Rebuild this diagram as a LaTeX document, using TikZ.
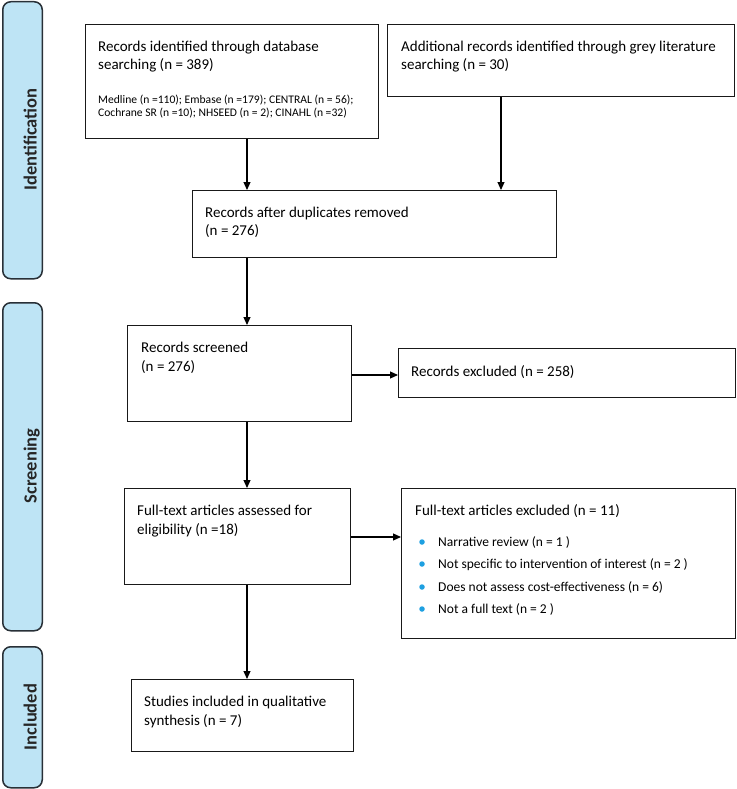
\documentclass[tikz,border=0pt]{standalone}
\usepackage{fontspec}
\setmainfont{Carlito}
\usetikzlibrary{arrows.meta}
\definecolor{sidefill}{RGB}{190,228,245}
\definecolor{sidedraw}{RGB}{40,48,55}
\definecolor{bulletc}{RGB}{30,160,225}
\begin{document}
\begin{tikzpicture}[x=1pt,y=-1pt,
  box/.style={draw=black!90, line width=1.3pt, rectangle, inner sep=0pt, anchor=north west},
  side/.style={draw=sidedraw, fill=sidefill, line width=1.5pt, rounded corners=8pt, rectangle, inner sep=0pt, anchor=north west, minimum width=39.5pt},
  sidelabel/.style={rotate=90, anchor=base, inner sep=0pt, font=\fontsize{18.5}{22}\selectfont\bfseries, text=black!85},
  txt/.style={anchor=base west, inner sep=0pt, font=\fontsize{15}{18}\selectfont},
  small/.style={anchor=base west, inner sep=0pt, font=\fontsize{11.6}{13}\selectfont},
  btxt/.style={anchor=base west, inner sep=0pt, font=\fontsize{13.5}{15}\selectfont},
  dot/.style={circle, fill=bulletc, inner sep=0pt, minimum size=5.5pt},
  arr/.style={-{Triangle[length=8pt,width=7pt]}, line width=1.1pt, draw=black}
]
\useasboundingbox (0,0) rectangle (736,789);

% side bars
\node[side, minimum height=277pt] (s1) at (2,1) {};
\node[side, minimum height=328pt] (s2) at (2,302) {};
\node[side, minimum height=141pt] (s3) at (2,646) {};
\node[sidelabel] (l1) at (36.5,139.5) {Identification};
\node[sidelabel] (l2) at (36.5,466) {Screening};
\node[sidelabel] (l3) at (36.5,717) {Included};

% boxes
\node[box, minimum width=293pt, minimum height=114pt] (db) at (85,24) {};
\node[box, minimum width=347pt, minimum height=72pt] (grey) at (387,24) {};
\node[box, minimum width=364pt, minimum height=67pt] (dup) at (192,190) {};
\node[box, minimum width=224pt, minimum height=96pt] (scr) at (127,325) {};
\node[box, minimum width=337pt, minimum height=49pt] (exc) at (398,348) {};
\node[box, minimum width=226pt, minimum height=96pt] (ft) at (124,488) {};
\node[box, minimum width=334pt, minimum height=150pt] (fte) at (401,488) {};
\node[box, minimum width=222pt, minimum height=72pt] (stu) at (131,679) {};

% texts
\node[txt] (t1) at (98,52) {Records identified through database};
\node[txt] (t2) at (98,70) {searching (n = 389)};
\node[small] (t3) at (98,104) {Medline (n =110); Embase (n =179); CENTRAL (n = 56);};
\node[small] (t4) at (98,117) {Cochrane SR (n =10); NHSEED (n = 2); CINAHL (n =32)};
\node[txt] (t5) at (401,52) {Additional records identified through grey literature};
\node[txt] (t6) at (401,70) {searching (n = 30)};
\node[txt] (t7) at (205,217) {Records after duplicates removed};
\node[txt] (t8) at (205,235) {(n = 276)};
\node[txt] (t9) at (141,352) {Records screened};
\node[txt] (t10) at (141,371) {(n = 276)};
\node[txt] (t11) at (411,376) {Records excluded (n = 258)};
\node[txt] (t12) at (137,515) {Full-text articles assessed for};
\node[txt] (t13) at (137,534) {eligibility (n =18)};
\node[txt] (t14) at (415,515) {Full-text articles excluded (n = 11)};
\node[dot] (d1) at (422,542) {};
\node[dot] (d2) at (422,564) {};
\node[dot] (d3) at (422,587) {};
\node[dot] (d4) at (422,609) {};
\node[btxt] (b1) at (438,546) {Narrative review (n = 1 )};
\node[btxt] (b2) at (438,568) {Not specific to intervention of interest (n = 2 )};
\node[btxt] (b3) at (438,591) {Does not assess cost-effectiveness (n = 6)};
\node[btxt] (b4) at (438,613) {Not a full text (n = 2 )};
\node[txt] (t15) at (144,706) {Studies included in qualitative};
\node[txt] (t16) at (144,725) {synthesis (n = 7)};

% connectors
\coordinate (xa) at (247,0);
\coordinate (xb) at (501,0);
\coordinate (ya) at (0,375);
\coordinate (yb) at (0,537);
\draw[arr] (db.south -| xa) -- (dup.north -| xa);
\draw[arr] (grey.south -| xb) -- (dup.north -| xb);
\draw[arr] (dup.south -| xa) -- (scr.north -| xa);
\draw[arr] (scr.south -| xa) -- (ft.north -| xa);
\draw[arr] (ft.south -| xa) -- (stu.north -| xa);
\draw[arr] (scr.east |- ya) -- (exc.west |- ya);
\draw[arr] (ft.east |- yb) -- (fte.west |- yb);
\end{tikzpicture}
\end{document}
